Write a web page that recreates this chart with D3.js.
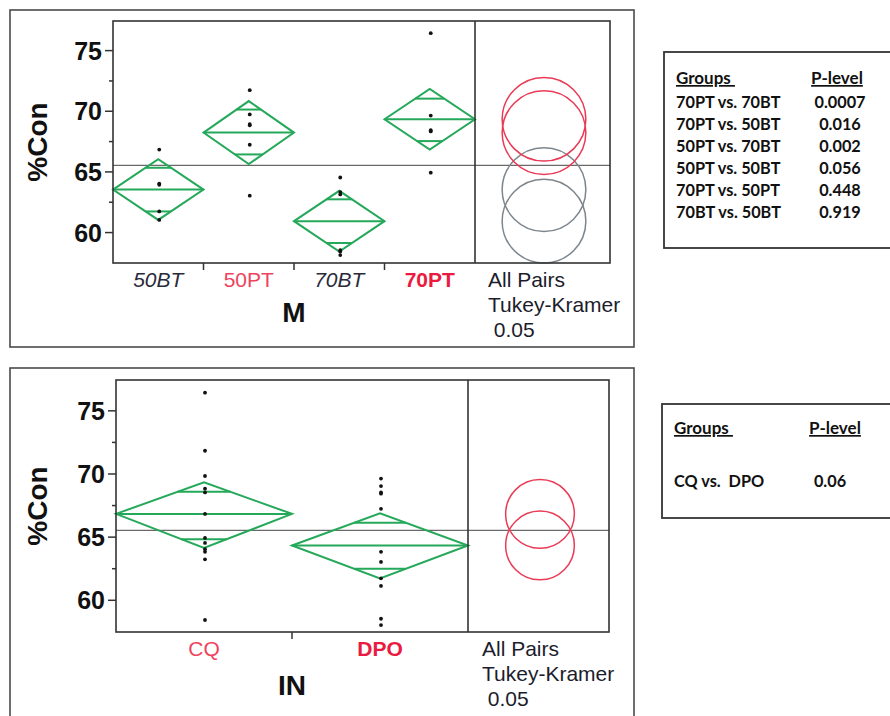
<!DOCTYPE html>
<html>
<head>
<meta charset="utf-8">
<script src="https://cdn.jsdelivr.net/npm/d3@7"></script>
<style>
html,body{margin:0;padding:0;background:#fff;}
svg{display:block;}
</style>
</head>
<body>
<svg id="chart" width="890" height="716"></svg>
<script>
// ---------- DATA ----------
const topGroups      = ["50BT", "50PT", "70BT", "70PT"];
const topMeans       = [63.5, 68.2, 60.9, 69.3];
const topCILow       = [61.0, 65.6, 58.4, 66.8];
const topCIHigh      = [66.0, 70.8, 63.4, 71.8];
const topOverlapLow  = [61.7, 66.4, 59.1, 67.5];
const topOverlapHigh = [65.3, 70.1, 62.7, 71.0];
const topPoints = [
  [66.8, 64.0, 63.9, 61.7, 61.0],
  [71.7, 69.7, 68.9, 68.8, 67.2, 63.0],
  [64.5, 63.3, 63.1, 58.5, 58.4, 58.1],
  [76.4, 69.6, 68.4, 68.3, 64.9]
];
const topCircleRadius = [3.45, 3.45, 3.45, 3.45];
const topCircleSignif = [false, true, false, true];
const topGrandMean = 65.5;

const botGroups      = ["CQ", "DPO"];
const botMeans       = [66.8, 64.3];
const botCILow       = [64.1, 61.7];
const botCIHigh      = [69.3, 66.85];
const botOverlapLow  = [64.8, 62.45];
const botOverlapHigh = [68.55, 66.1];
const botPoints = [
  [76.4, 71.8, 69.8, 68.8, 68.5, 66.8, 64.9, 64.5, 64.0, 63.8, 63.2, 58.4],
  [69.6, 69.0, 68.5, 68.4, 67.2, 63.8, 63.0, 61.7, 61.1, 58.5, 58.0]
];
const botCircleRadius = [2.72, 2.72];
const botCircleSignif = [true, true];
const botGrandMean = 65.5;

const yTicks = [60, 65, 70, 75];
const yMinorTicks = [62.5, 67.5, 72.5];
const yDomain = [57.45, 77.4];

const topTableRows = [
  ["70PT vs. 70BT", "0.0007"],
  ["70PT vs. 50BT", "0.016"],
  ["50PT vs. 70BT", "0.002"],
  ["50PT vs. 50BT", "0.056"],
  ["70PT vs. 50PT", "0.448"],
  ["70BT vs. 50BT", "0.919"]
];
const botTableRows = [["CQ vs.  DPO", "0.06"]];
const tableHeaders = ["Groups", "P-level"];
const compLabel = ["All Pairs", "Tukey-Kramer", " 0.05"];

// ---------- STYLES ----------
const GREEN = "#25a85a";
const RED_C = "#ea3a55";
const GRAY_C = "#7d858c";
const topLabelStyle = [
  {fill:"#2a2a3a", weight:"normal", style:"italic"},
  {fill:"#f0435d", weight:"normal", style:"normal"},
  {fill:"#2a2a3a", weight:"normal", style:"italic"},
  {fill:"#ea1a40", weight:"bold",   style:"normal"}
];
const botLabelStyle = [
  {fill:"#f0435d", weight:"normal", style:"normal"},
  {fill:"#ea1a40", weight:"bold",   style:"normal"}
];

const svg = d3.select("#chart");
const SANS = "'Liberation Sans', Arial, sans-serif";
const TFONT = "Lato, 'Open Sans', sans-serif";

function panel(cfg) {
  const g = svg.append("g");
  g.append("rect").attr("x", cfg.box[0]).attr("y", cfg.box[1])
    .attr("width", cfg.box[2] - cfg.box[0]).attr("height", cfg.box[3] - cfg.box[1])
    .attr("fill", "none").attr("stroke", "#4a4a4a").attr("stroke-width", 1.6);

  const y = d3.scaleLinear().domain(yDomain).range([cfg.bottom, cfg.top]);
  const x = d3.scaleBand().domain(cfg.groups).range([cfg.left, cfg.divider]).paddingInner(0).paddingOuter(0);
  const bw = x.bandwidth();

  g.append("line").attr("x1", cfg.left).attr("x2", cfg.right)
    .attr("y1", y(cfg.grand)).attr("y2", y(cfg.grand))
    .attr("stroke", "#6a6a6a").attr("stroke-width", 1.3);

  cfg.groups.forEach((grp, i) => {
    const x0 = x(grp), x1 = x0 + bw, xc = x0 + bw / 2;
    const m = cfg.means[i], lo = cfg.ciLow[i], hi = cfg.ciHigh[i];
    const dg = g.append("g").attr("stroke", GREEN).attr("stroke-width", 2).attr("fill", "none");
    dg.append("path").attr("d", d3.line()([[x0, y(m)], [xc, y(hi)], [x1, y(m)], [xc, y(lo)]]) + "Z");
    dg.append("line").attr("x1", x0).attr("x2", x1).attr("y1", y(m)).attr("y2", y(m));
    [[cfg.ovLow[i], lo], [cfg.ovHigh[i], hi]].forEach(([ov, tip]) => {
      const frac = (ov - tip) / (m - tip);
      const hw = bw / 2 * frac;
      dg.append("line").attr("x1", xc - hw).attr("x2", xc + hw).attr("y1", y(ov)).attr("y2", y(ov));
    });
    g.selectAll(null).data(cfg.points[i]).enter().append("circle")
      .attr("cx", xc + 1).attr("cy", d => y(d)).attr("r", 1.9).attr("fill", "#111");
  });

  const cx = (cfg.divider + cfg.right) / 2 + cfg.circleShift;
  const pxPerUnit = y(0) - y(1);
  cfg.groups.forEach((grp, i) => {
    g.append("circle").attr("cx", cx).attr("cy", y(cfg.means[i]))
      .attr("r", cfg.radius[i] * pxPerUnit)
      .attr("fill", "none").attr("stroke", cfg.signif[i] ? RED_C : GRAY_C).attr("stroke-width", 1.5);
  });

  g.append("rect").attr("x", cfg.left).attr("y", cfg.top)
    .attr("width", cfg.right - cfg.left).attr("height", cfg.bottom - cfg.top)
    .attr("fill", "none").attr("stroke", "#333").attr("stroke-width", 1.6);
  g.append("line").attr("x1", cfg.divider).attr("x2", cfg.divider)
    .attr("y1", cfg.top).attr("y2", cfg.bottom).attr("stroke", "#333").attr("stroke-width", 1.6);

  const ya = g.append("g").attr("transform", `translate(${cfg.left},0)`)
    .call(d3.axisLeft(y).tickValues(yTicks).tickSize(8).tickPadding(3).tickFormat(d3.format("d")));
  ya.select(".domain").remove();
  ya.selectAll("line").attr("stroke", "#333").attr("stroke-width", 1.5);
  ya.selectAll("text").attr("font-family", SANS).attr("font-weight", "bold")
    .attr("font-size", 25).attr("fill", "#111").attr("dy", "0.36em");
  const ym = g.append("g").attr("transform", `translate(${cfg.left},0)`)
    .call(d3.axisLeft(y).tickValues(yMinorTicks).tickSize(4).tickFormat(""));
  ym.select(".domain").remove();
  ym.selectAll("line").attr("stroke", "#333").attr("stroke-width", 1.5);

  g.selectAll(null).data(cfg.groups.slice(1)).enter().append("line")
    .attr("x1", d => x(d)).attr("x2", d => x(d))
    .attr("y1", cfg.bottom).attr("y2", cfg.bottom + 7)
    .attr("stroke", "#333").attr("stroke-width", 1.5);

  g.selectAll(null).data(cfg.groups).enter().append("text")
    .attr("x", d => x(d) + bw / 2).attr("y", cfg.bottom + cfg.labelDy)
    .attr("text-anchor", "middle").attr("font-family", SANS).attr("font-size", 21)
    .attr("fill", (d, i) => cfg.labelStyle[i].fill)
    .attr("font-weight", (d, i) => cfg.labelStyle[i].weight)
    .attr("font-style", (d, i) => cfg.labelStyle[i].style)
    .text(d => d);

  g.append("text").attr("x", (cfg.left + cfg.divider) / 2).attr("y", cfg.bottom + cfg.titleDy)
    .attr("text-anchor", "middle").attr("font-family", SANS).attr("font-weight", "bold")
    .attr("font-size", 28).attr("fill", "#111").text(cfg.title);

  g.append("text").attr("transform", `translate(47,${(cfg.top + cfg.bottom) / 2}) rotate(-90)`)
    .attr("text-anchor", "middle").attr("font-family", SANS).attr("font-weight", "bold")
    .attr("font-size", 28).attr("fill", "#111").text("%Con");

  g.selectAll(null).data(compLabel).enter().append("text")
    .attr("x", cfg.divider + cfg.compDx).attr("y", (d, i) => cfg.bottom + cfg.labelDy + i * 25)
    .attr("font-family", SANS).attr("font-size", 21).attr("fill", "#1c1c2c")
    .style("white-space", "pre")
    .text(d => d);
}

panel({
  box: [10, 10, 634, 347], left: 113, divider: 475, right: 610, top: 21, bottom: 263,
  groups: topGroups, means: topMeans, ciLow: topCILow, ciHigh: topCIHigh,
  ovLow: topOverlapLow, ovHigh: topOverlapHigh, points: topPoints,
  radius: topCircleRadius, signif: topCircleSignif, grand: topGrandMean,
  labelStyle: topLabelStyle, title: "M", labelDy: 23.5, titleDy: 59, compDx: 13, circleShift: 1.5
});
panel({
  box: [10, 368, 634, 730], left: 116, divider: 468, right: 609, top: 380, bottom: 632,
  groups: botGroups, means: botMeans, ciLow: botCILow, ciHigh: botCIHigh,
  ovLow: botOverlapLow, ovHigh: botOverlapHigh, points: botPoints,
  radius: botCircleRadius, signif: botCircleSignif, grand: botGrandMean,
  labelStyle: botLabelStyle, title: "IN", labelDy: 23.5, titleDy: 63, compDx: 14, circleShift: 1.5
});

// ---------- TABLES ----------
function table(cfg) {
  const g = svg.append("g");
  g.append("rect").attr("x", cfg.x).attr("y", cfg.y).attr("width", 900 - cfg.x).attr("height", cfg.h)
    .attr("fill", "none").attr("stroke", "#333").attr("stroke-width", 1.8);
  const hdr = [[cfg.colA, "start"], [cfg.colB, "middle"]];
  tableHeaders.forEach((h, i) => {
    g.append("text").attr("x", hdr[i][0]).attr("y", cfg.headY)
      .attr("text-anchor", hdr[i][1]).attr("font-family", TFONT).attr("font-weight", "bold")
      .attr("font-size", 17).attr("fill", "#111").attr("text-decoration", "underline")
      .style("white-space", "pre").text(i === 0 ? h + " " : h);
  });
  cfg.rows.forEach((r, i) => {
    g.append("text").attr("x", cfg.colA).attr("y", cfg.rowY + i * 22)
      .attr("font-family", TFONT).attr("font-weight", "bold").attr("font-size", 16.3)
      .attr("fill", "#111").style("white-space", "pre").text(r[0]);
    g.append("text").attr("x", cfg.colV).attr("y", cfg.rowY + i * 22).attr("text-anchor", "middle")
      .attr("font-family", TFONT).attr("font-weight", "bold").attr("font-size", 16.3)
      .attr("fill", "#111").text(r[1]);
  });
}
table({x: 664, y: 52, h: 196, colA: 676, colB: 837, colV: 840, headY: 84, rowY: 108, rows: topTableRows});
table({x: 662, y: 404, h: 114, colA: 674, colB: 835, colV: 830, headY: 434, rowY: 487, rows: botTableRows});
</script>
</body>
</html>
